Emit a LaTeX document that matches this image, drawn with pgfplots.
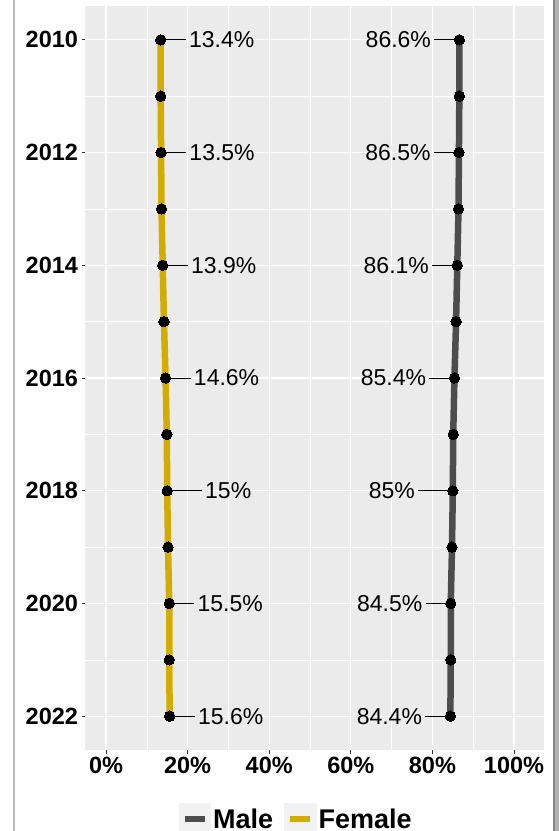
\documentclass[border=0pt]{standalone}
\usepackage{fontspec}
\setmainfont{Liberation Sans}
\usepackage{pgfplots}
\usepackage{pgfplotstable}
\pgfplotsset{compat=1.18}
\definecolor{panel}{HTML}{EBEBEB}
\definecolor{femcol}{RGB}{210,172,0}
\definecolor{malecol}{HTML}{4D4D4D}
\definecolor{keybg}{HTML}{F2F2F2}
\definecolor{tickcol}{HTML}{333333}

\pgfplotstableread{
year val
2010 13.4
2011 13.4
2012 13.5
2013 13.6
2014 13.9
2015 14.2
2016 14.6
2017 14.9
2018 15.0
2019 15.2
2020 15.5
2021 15.5
2022 15.6
}\female
\pgfplotstableread{
year val
2010 86.6
2011 86.6
2012 86.5
2013 86.4
2014 86.1
2015 85.8
2016 85.4
2017 85.1
2018 85.0
2019 84.8
2020 84.5
2021 84.5
2022 84.4
}\male
\pgfplotstableread{
year val
2010 13.4
2012 13.5
2014 13.9
2016 14.6
2018 15
2020 15.5
2022 15.6
}\femlab
\pgfplotstableread{
year val
2010 86.6
2012 86.5
2014 86.1
2016 85.4
2018 85
2020 84.5
2022 84.4
}\malelab

\begin{document}
\begin{tikzpicture}
\useasboundingbox (0pt,0pt) rectangle (559pt,831pt);
\fill[white] (0pt,0pt) rectangle (559pt,831pt);
\fill[gray!100!black, opacity=0.55] (13.3pt,0pt) rectangle (14.8pt,831pt);
\fill[black!48] (552.5pt,0pt) rectangle (555pt,831pt);
\fill[black!30] (555pt,0pt) rectangle (559pt,831pt);
\begin{axis}[
  at={(85pt,81pt)}, anchor=south west,
  scale only axis, width=459pt, height=744pt,
  xmin=-5.15, xmax=107.35, ymin=2009.4, ymax=2022.6, y dir=reverse,
  axis background/.style={fill=panel},
  axis line style={draw=none},
  xtick={0,20,40,60,80,100},
  xticklabels={0\%,20\%,40\%,60\%,80\%,100\%},
  minor xtick={10,30,50,70,90},
  ytick={2010,2012,2014,2016,2018,2020,2022},
  yticklabels={2010,2012,2014,2016,2018,2020,2022},
  minor ytick={2011,2013,2015,2017,2019,2021},
  grid=both,
  major grid style={white, line width=1.1pt},
  minor grid style={white, line width=0.55pt},
  tick align=outside, major tick length=3.5pt, minor tick length=0pt,
  tick style={tickcol, line width=1pt},
  xtick pos=left, ytick pos=left,
  tick label style={font=\bfseries\fontsize{23.5}{24}\selectfont, text=black},
  legend style={draw=none, fill=none, legend columns=2,
    at={(axis description cs:0.46,-0.0927)}, anchor=center,
    font=\bfseries\fontsize{27}{28}\selectfont,
    /tikz/every even column/.append style={column sep=9pt}},
  legend image code/.code={
    \fill[keybg] (0pt,-13pt) rectangle (26pt,13pt);
    \draw[line width=6pt] (3pt,0pt) -- (23pt,0pt);
  },
]
\addplot[malecol, line width=6.5pt, mark=*, mark size=5.2pt,
  mark options={black, fill=black, line width=0pt}]
  table[x=val, y=year] {\male};
\addlegendentry{Male}
\addplot[femcol, line width=6.5pt, mark=*, mark size=5.2pt,
  mark options={black, fill=black, line width=0pt}]
  table[x=val, y=year] {\female};
\addlegendentry{Female}

\addplot[draw=none, mark=none, forget plot,
  point meta=explicit symbolic,
  nodes near coords={\pgfplotspointmeta\%},
  every node near coord/.append style={anchor=center, xshift=61pt,
    inner sep=0pt, text=black, font=\fontsize{23}{23}\selectfont,
    append after command={([xshift=-61pt]\tikzlastnode.center) edge[black, line width=0.9pt] ([xshift=-3pt]\tikzlastnode.west)}}]
  table[x=val, y=year, meta=val] {\femlab};
\addplot[draw=none, mark=none, forget plot,
  point meta=explicit symbolic,
  nodes near coords={\pgfplotspointmeta\%},
  every node near coord/.append style={anchor=center, xshift=-61pt,
    inner sep=0pt, text=black, font=\fontsize{23}{23}\selectfont,
    append after command={([xshift=61pt]\tikzlastnode.center) edge[black, line width=0.9pt] ([xshift=3pt]\tikzlastnode.east)}}]
  table[x=val, y=year, meta=val] {\malelab};
\end{axis}
\end{tikzpicture}
\end{document}
